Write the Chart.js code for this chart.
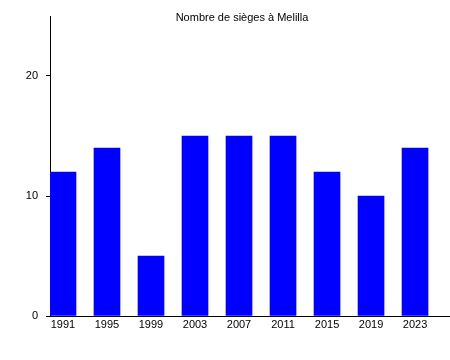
<!DOCTYPE html>
<html>
<head>
<meta charset="utf-8">
<script src="https://cdn.jsdelivr.net/npm/chart.js@4"></script>
<style>
  html, body { margin: 0; padding: 0; background: #fff; }
  #wrap { width: 450px; height: 360px; }
</style>
</head>
<body>
<div id="wrap"><canvas id="chart" width="450" height="360"></canvas></div>
<script>
const years = ['1991', '1995', '1999', '2003', '2007', '2011', '2015', '2019', '2023'];
const seats = [12, 14, 5, 15, 15, 15, 12, 10, 14];
const yTicks = [0, 10, 20];
const chartTitle = 'Nombre de sièges à Melilla';

const FONT = 'Liberation Sans, Arial, sans-serif';

// title drawn by hand so it doesn't shift the plot area
const titlePlugin = {
  id: 'titleText',
  afterDraw(chart) {
    const ctx = chart.ctx;
    ctx.save();
    ctx.font = '11px ' + FONT;
    ctx.fillStyle = '#000';
    ctx.textAlign = 'center';
    ctx.textBaseline = 'middle';
    ctx.fillText(chartTitle, 242, 18);
    ctx.restore();
  }
};

new Chart(document.getElementById('chart'), {
  type: 'bar',
  data: {
    datasets: [{
      data: seats.map((v, i) => ({ x: i, y: v })),
      backgroundColor: '#0000ff',
      borderWidth: 0,
      barThickness: 26
    }]
  },
  options: {
    responsive: false,
    animation: false,
    layout: { padding: { top: 16, left: 0, right: 0, bottom: 0 } },
    plugins: { legend: { display: false }, tooltip: { enabled: false } },
    scales: {
      x: {
        type: 'linear',
        min: -0.295,
        max: 8.795,
        offset: false,
        afterBuildTicks(scale) { scale.ticks = years.map((y, i) => ({ value: i })); },
        afterFit(scale) { scale.height = 44; },
        ticks: {
          callback: (v) => years[v],
          font: { family: FONT, size: 11 },
          color: '#000',
          padding: 2,
          maxRotation: 0,
          autoSkip: false
        },
        grid: { drawOnChartArea: false, drawTicks: false },
        border: { color: '#000', width: 1 }
      },
      y: {
        min: 0,
        max: 25,
        afterBuildTicks(scale) { scale.ticks = yTicks.map(v => ({ value: v })); },
        afterFit(scale) { scale.width = 50; },
        ticks: {
          font: { family: FONT, size: 11 },
          color: '#000',
          padding: 8
        },
        grid: { drawOnChartArea: false, tickLength: 4, color: '#000' },
        border: { color: '#000', width: 1 }
      }
    }
  },
  plugins: [titlePlugin]
});
</script>
</body>
</html>
